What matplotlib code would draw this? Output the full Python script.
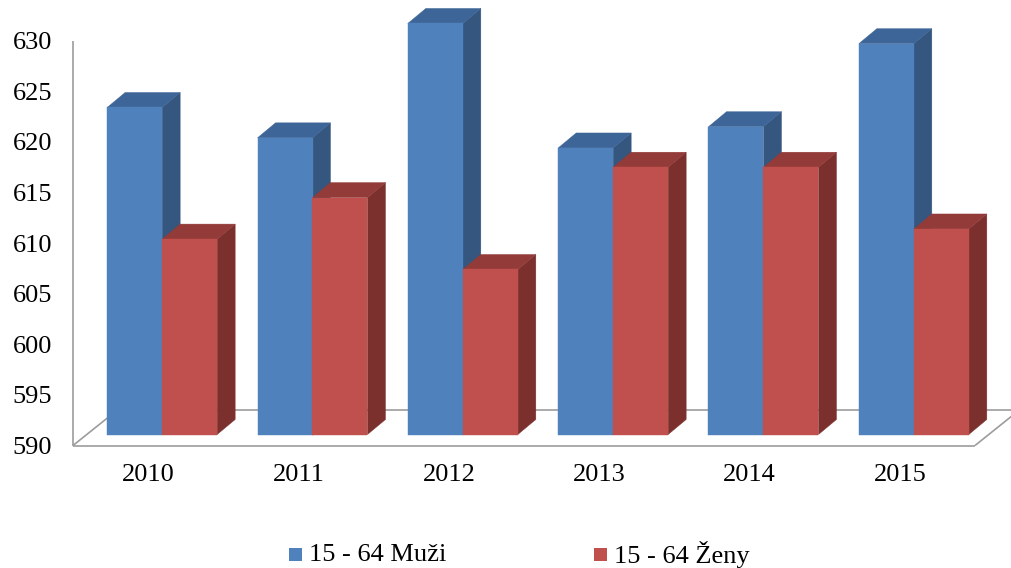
import matplotlib
matplotlib.use('Agg')
import matplotlib.pyplot as plt
from matplotlib.patches import Polygon, Rectangle

# ---- data ----
years = ['2010', '2011', '2012', '2013', '2014', '2015']
muzi = [622.3, 619.3, 630.6, 618.3, 620.4, 628.6]
zeny = [609.3, 613.4, 606.3, 616.4, 616.4, 610.3]
series_labels = ['15 - 64 Muži', '15 - 64 Ženy']
yticks = [590, 595, 600, 605, 610, 615, 620, 625, 630]

# ---- style ----
blue = dict(front='#4F81BD', top='#3E6598', side='#34567F')
red = dict(front='#C0504D', top='#933B39', side='#7C302E')
line_col = '#9c9c9c'
FONT = 'Liberation Serif'
FS = 19

W, H, DPI = 1011, 568, 100
fig = plt.figure(figsize=(W / DPI, H / DPI), dpi=DPI)
fig.patch.set_facecolor('white')

ax_l, ax_r = 73, 975        # front plane x extent (px)
ax_b, ax_t = 445.5, 40.5    # front plane: 590 and 630 (px)
ax = fig.add_axes([ax_l / W, 1 - ax_b / H, (ax_r - ax_l) / W, (ax_b - ax_t) / H])
ax.set_xlim(0, len(years))
ax.set_ylim(yticks[0], yticks[-1])
ax.patch.set_alpha(0)
for s in ax.spines.values():
    s.set_visible(False)

sx = (ax_r - ax_l) / len(years)                 # px per category
sy = (ax_b - ax_t) / (yticks[-1] - yticks[0])   # px per value unit


def off(dx_px, dy_px):
    return dx_px / sx, dy_px / sy


ymin = yticks[0]
fdx, fdy = off(45, 36)   # floor depth
pdx, pdy = off(14, 11)   # bar plane offset
bdx, bdy = off(18, 15)   # bar depth
bw = 55 / sx             # bar width

lw = 1.2
kw = dict(color=line_col, lw=lw, clip_on=False, solid_capstyle='butt', zorder=1)
n = len(years)
ax.plot([0, n], [ymin, ymin], **kw)
ax.plot([0, fdx], [ymin, ymin + fdy], **kw)
ax.plot([fdx, n + fdx], [ymin + fdy, ymin + fdy], **kw)
ax.plot([n, n + fdx], [ymin, ymin + fdy], **kw)
ax.plot([0, 0], [ymin, yticks[-1]], **kw)


def bar3d(x0, v, c):
    y0 = ymin + pdy
    x0 = x0 + pdx
    top = v + pdy
    front = [(x0, y0), (x0 + bw, y0), (x0 + bw, top), (x0, top)]
    topf = [(x0, top), (x0 + bw, top), (x0 + bw + bdx, top + bdy), (x0 + bdx, top + bdy)]
    side = [(x0 + bw, y0), (x0 + bw + bdx, y0 + bdy), (x0 + bw + bdx, top + bdy), (x0 + bw, top)]
    for pts, col in ((side, c['side']), (topf, c['top']), (front, c['front'])):
        ax.add_patch(Polygon(pts, closed=True, facecolor=col, edgecolor=col,
                             lw=0.3, clip_on=False, zorder=2))


for i in range(n):
    xc = i + 0.5
    bar3d(xc - bw, muzi[i], blue)
    bar3d(xc, zeny[i], red)

ax.set_yticks(yticks)
ax.set_yticklabels([str(t) for t in yticks], fontfamily=FONT, fontsize=FS)
ax.set_xticks([i + 0.5 for i in range(n)])
ax.set_xticklabels(years, fontfamily=FONT, fontsize=FS)
ax.tick_params(axis='y', length=0, pad=15)
ax.tick_params(axis='x', length=0, pad=13)

# legend
sq = 13
for (x_sq, lab, c) in ((289, series_labels[0], blue), (594, series_labels[1], red)):
    fig.add_artist(Rectangle((x_sq / W, 1 - (548 + sq) / H), sq / W, sq / H,
                             transform=fig.transFigure, facecolor=c['front'],
                             edgecolor='none'))
    fig.text((x_sq + sq + 7) / W, 1 - 555 / H, lab, fontfamily=FONT, fontsize=FS,
             va='center', ha='left')

fig.savefig('out.png', dpi=DPI, facecolor='white')
